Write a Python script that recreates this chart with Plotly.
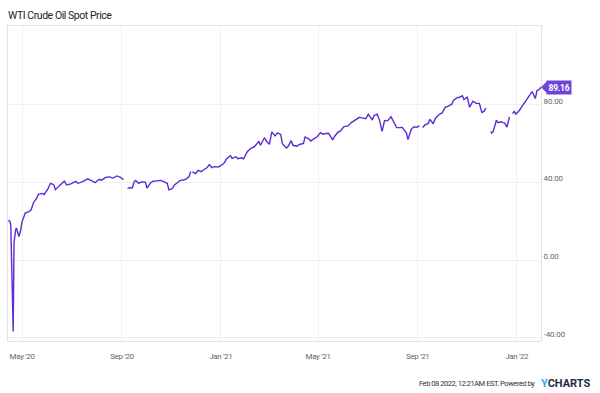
import plotly.graph_objects as go

title_text = "WTI Crude Oil Spot Price"
footer_text = "Feb 08 2022, 12:21AM EST. Powered by"
last_label = "89.16"

dates = [
    "2020-04-14", "2020-04-16", "2020-04-17", "2020-04-20", "2020-04-21", "2020-04-22",
    "2020-04-23", "2020-04-24", "2020-04-27", "2020-04-29", "2020-05-01", "2020-05-05",
    "2020-05-08", "2020-05-12", "2020-05-15", "2020-05-19", "2020-05-21", "2020-05-26",
    "2020-05-28", "2020-06-02", "2020-06-05", "2020-06-09", "2020-06-11", "2020-06-16",
    "2020-06-19", "2020-06-22", "2020-06-25", "2020-06-30", "2020-07-06", "2020-07-09",
    "2020-07-14", "2020-07-21", "2020-07-24", "2020-07-30", "2020-08-04", "2020-08-07",
    "2020-08-12", "2020-08-17", "2020-08-21", "2020-08-26", "2020-08-31", "2020-09-02",
    "2020-09-03", "2020-09-04", "2020-09-08", "2020-09-10", "2020-09-14", "2020-09-16",
    "2020-09-18", "2020-09-22", "2020-09-25", "2020-09-30", "2020-10-02", "2020-10-06",
    "2020-10-09", "2020-10-14", "2020-10-19", "2020-10-22", "2020-10-27", "2020-10-29",
    "2020-11-02", "2020-11-05", "2020-11-09", "2020-11-12", "2020-11-16", "2020-11-19",
    "2020-11-23", "2020-11-25", "2020-11-26", "2020-11-27", "2020-12-01", "2020-12-04",
    "2020-12-08", "2020-12-11", "2020-12-15", "2020-12-18", "2020-12-21", "2020-12-24",
    "2020-12-29", "2020-12-31", "2021-01-05", "2021-01-08", "2021-01-13", "2021-01-15",
    "2021-01-20", "2021-01-22", "2021-01-27", "2021-01-29", "2021-02-03", "2021-02-08",
    "2021-02-11", "2021-02-17", "2021-02-19", "2021-02-24", "2021-02-26", "2021-03-02",
    "2021-03-05", "2021-03-09", "2021-03-12", "2021-03-16", "2021-03-18", "2021-03-23",
    "2021-03-25", "2021-03-29", "2021-03-31", "2021-04-05", "2021-04-08", "2021-04-13",
    "2021-04-15", "2021-04-20", "2021-04-22", "2021-04-27", "2021-04-30", "2021-05-04",
    "2021-05-07", "2021-05-11", "2021-05-14", "2021-05-19", "2021-05-21", "2021-05-26",
    "2021-05-28", "2021-06-02", "2021-06-07", "2021-06-11", "2021-06-16", "2021-06-21",
    "2021-06-24", "2021-06-29", "2021-07-02", "2021-07-07", "2021-07-09", "2021-07-13",
    "2021-07-16", "2021-07-19", "2021-07-22", "2021-07-26", "2021-07-30", "2021-08-03",
    "2021-08-06", "2021-08-10", "2021-08-13", "2021-08-18", "2021-08-20", "2021-08-24",
    "2021-08-27", "2021-08-31", "2021-09-03", "2021-09-06", "2021-09-07", "2021-09-10",
    "2021-09-14", "2021-09-16", "2021-09-20", "2021-09-23", "2021-09-28", "2021-10-01",
    "2021-10-05", "2021-10-08", "2021-10-13", "2021-10-15", "2021-10-20", "2021-10-22",
    "2021-10-26", "2021-10-28", "2021-11-01", "2021-11-04", "2021-11-08", "2021-11-10",
    "2021-11-12", "2021-11-16", "2021-11-19", "2021-11-22", "2021-11-24", "2021-11-25",
    "2021-11-30", "2021-12-01", "2021-12-03", "2021-12-07", "2021-12-09", "2021-12-13",
    "2021-12-15", "2021-12-17", "2021-12-20", "2021-12-22", "2021-12-23", "2021-12-24",
    "2021-12-27", "2021-12-29", "2021-12-31", "2022-01-04", "2022-01-07", "2022-01-11",
    "2022-01-13", "2022-01-18", "2022-01-20", "2022-01-24", "2022-01-26", "2022-01-28",
    "2022-01-31",
]

prices = [
    20.5, 19.9, 18.3, -36.8, 8.9, 13.6,
    15.7, 16.5, 12.2, 15.0, 19.9, 24.4,
    24.7, 25.8, 29.6, 32.0, 33.9, 34.4,
    33.7, 36.8, 39.6, 38.9, 36.3, 38.4,
    39.8, 40.7, 38.7, 39.3, 40.6, 39.6,
    40.3, 41.9, 41.3, 39.9, 41.7, 41.2,
    42.6, 42.9, 42.3, 43.4, 42.6, 41.5,
    41.4, None, 36.8, 37.3, 37.3, 40.2,
    41.1, 39.6, 40.3, 40.2, 37.1, 39.6,
    40.6, 41.0, 41.1, 40.6, 39.6, 36.2,
    36.8, 38.8, 40.3, 41.1, 41.3, 41.8,
    43.1, 45.7, None, 45.5, 44.6, 46.3,
    45.6, 46.6, 47.6, 49.2, 47.7, 48.2,
    48.0, 48.5, 49.9, 52.2, 53.9, 52.4,
    53.3, 52.3, 52.8, 52.2, 56.0, 57.9,
    58.3, 61.1, 59.2, 63.2, 61.5, 59.7,
    66.1, 64.0, 65.6, 64.8, 60.0, 57.8,
    58.6, 61.6, 59.2, 58.7, 59.6, 60.2,
    63.5, 62.4, 61.4, 62.9, 63.6, 65.7,
    64.9, 65.3, 65.4, 62.0, 63.6, 66.2,
    66.3, 68.8, 69.2, 70.9, 72.2, 73.6,
    73.3, 72.9, 75.2, 72.2, 74.6, 75.3,
    71.8, 66.4, 71.9, 71.9, 73.9, 70.6,
    68.3, 68.3, 68.4, 65.5, 62.1, 67.5,
    68.7, 68.5, 69.3, None, 68.4, 69.7,
    70.5, 72.6, 70.3, 73.3, 75.3, 75.9,
    78.9, 79.3, 80.4, 82.3, 83.9, 83.8,
    84.7, 82.8, 84.0, 78.8, 81.9, 81.3,
    80.8, 80.8, 76.1, 76.8, 78.4, None,
    66.2, 65.6, 66.3, 72.1, 70.9, 71.3,
    70.9, 70.7, 68.6, 72.8, 73.8, None,
    75.6, 76.6, 75.3, 77.0, 78.9, 81.2,
    82.6, 85.4, 86.9, 83.3, 87.4, 87.7,
    89.16,
]

x_tick_vals = ["2020-05-01", "2020-09-01", "2021-01-01", "2021-05-01", "2021-09-01", "2022-01-01"]
x_tick_labels = ["May '20", "Sep '20", "Jan '21", "May '21", "Sep '21", "Jan '22"]
y_tick_vals = [-40, 0, 40, 80]
y_tick_labels = ["-40.00", "0.00", "40.00", "80.00"]
x_range = ["2020-04-13 14:00", "2022-01-31"]
y_range = [-41.7, 120.7]

LINE = "#5b2bd3"
TAG = "#6f45d8"
FONT = "Roboto, Liberation Sans, sans-serif"


def tight(s, sp):
    return "<span style='letter-spacing:%spx'>%s</span>" % (sp, s)


fig = go.Figure()
fig.add_trace(go.Scatter(
    x=dates, y=prices, mode="lines", connectgaps=False,
    line=dict(color=LINE, width=1.4), hoverinfo="skip", showlegend=False,
))

fig.update_layout(
    width=600, height=393,
    margin=dict(l=7.5, r=59, t=26, b=52),
    paper_bgcolor="white", plot_bgcolor="white",
    font=dict(family=FONT, size=8, color="#666666"),
    title=dict(text=tight(title_text, -0.45), x=8 / 600, xref="container", xanchor="left",
               y=1 - 15 / 393, yref="container", yanchor="middle",
               font=dict(family=FONT, size=10.5, color="#222222")),
    xaxis=dict(range=x_range, type="date", tickvals=x_tick_vals,
               ticktext=[tight(t, -0.35) for t in x_tick_labels],
               showgrid=True, gridcolor="#f0f0f0", gridwidth=1,
               showline=True, linecolor="#e3e3e3", linewidth=1, mirror=True,
               ticks="", zeroline=False, ticklabelstandoff=7,
               tickfont=dict(family=FONT, size=8, color="#666666")),
    yaxis=dict(range=y_range, side="right", tickvals=y_tick_vals,
               ticktext=[tight(t, -0.15) for t in y_tick_labels],
               showgrid=True, gridcolor="#f0f0f0", gridwidth=1,
               showline=True, linecolor="#e3e3e3", linewidth=1, mirror=True,
               ticks="", zeroline=False, ticklabelshift=-4,
               tickfont=dict(family=FONT, size=8, color="#666666")),
)

# last value tag
fig.add_annotation(x=1, xref="paper", y=prices[-1], yref="y",
                   text="<b>" + tight(last_label, -0.2) + "</b>",
                   xanchor="left", yanchor="middle", xshift=5, showarrow=False,
                   bgcolor=TAG, borderpad=1.5, font=dict(family=FONT, size=8.5, color="white"))
fig.add_shape(type="path", xref="paper", yref="y", xsizemode="pixel", ysizemode="pixel",
              xanchor=1, yanchor=prices[-1], path="M0,0 L6,6 L6,-6 Z",
              fillcolor=TAG, line=dict(width=0))

# footer
fig.add_annotation(x=(537 - 7.5) / 533.5, xref="paper", y=(341 - 383) / 315, yref="paper",
                   text=tight(footer_text, -0.45), xanchor="right", yanchor="middle", showarrow=False,
                   font=dict(family=FONT, size=7.5, color="#333333"))
fig.add_annotation(x=(539 - 7.5) / 533.5, xref="paper", y=(341 - 383) / 315, yref="paper",
                   text="<b><span style='color:#2fa4f0'>Y</span>CHARTS</b>",
                   xanchor="left", yanchor="middle", showarrow=False,
                   font=dict(family=FONT, size=11, color="#1c2a48"))

fig.write_html("out.html", config={"displayModeBar": False},
               post_script="document.body.style.margin='0';document.body.style.overflow='hidden';")
